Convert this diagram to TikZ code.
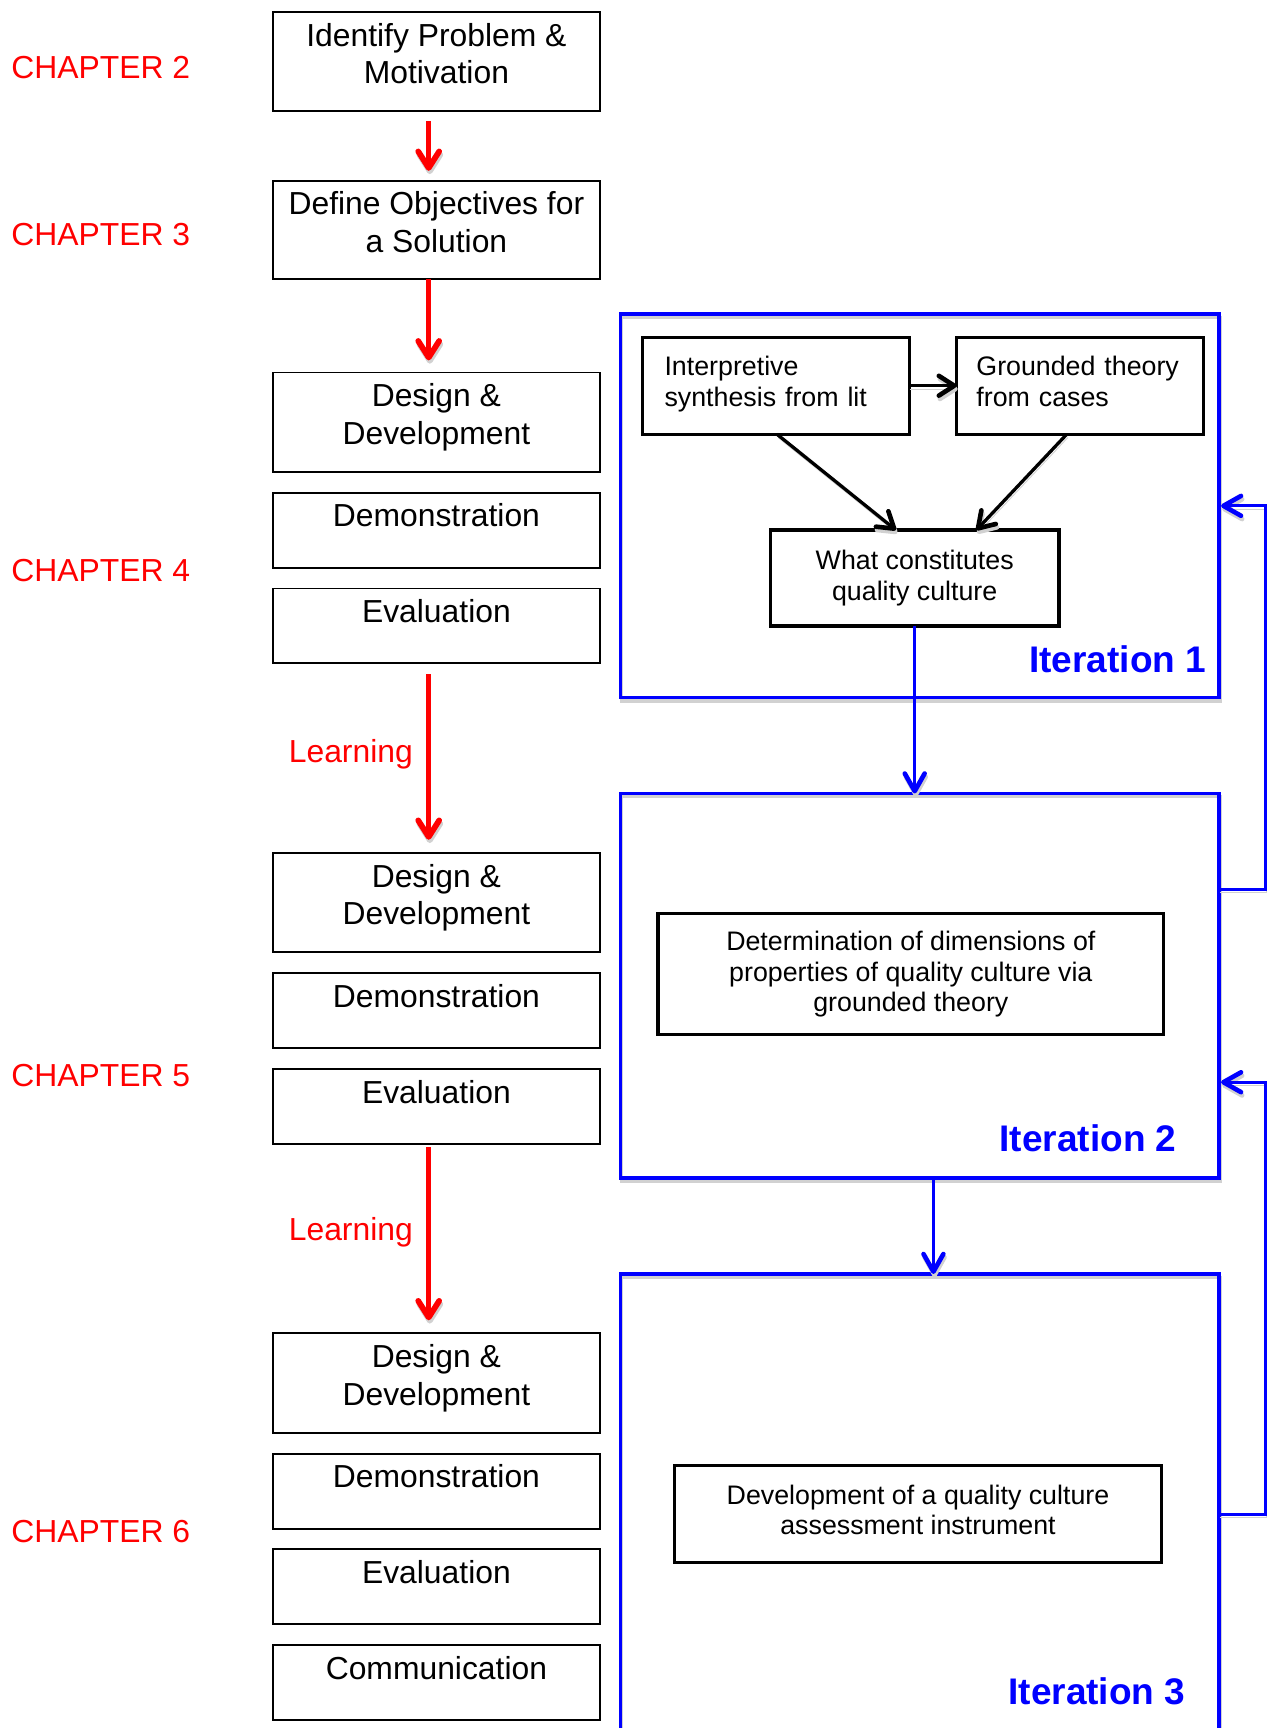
\documentclass[tikz,border=0pt]{standalone}
\usepackage{fontspec}
\setmainfont{Liberation Sans}
\usetikzlibrary{arrows.meta}

\newdimen\pxu \pxu=0.5pt
\definecolor{chred}{RGB}{255,0,0}
\definecolor{itblue}{RGB}{0,0,255}

% process step box: top-aligned, centred text; args: name, top y, height, text
\newcommand\flowbox[4]{%
  \node[fbox] (#1) at (396,{#2+#3/2})
    {\parbox[c][#3\pxu][t]{296\pxu}{\centering\rule{0pt}{15.5pt}#4}};}

\begin{document}
\begin{tikzpicture}[x=0.5pt,y=-0.5pt,
  dropsh/.style={preaction={draw=black!18, transform canvas={shift={(1,3)}}}},
  fbox/.style={draw=black, line width=0.9pt, inner sep=0pt, outer sep=0pt,
    font=\fontsize{14.45pt}{17pt}\selectfont},
  chap/.style={anchor=base west, inner sep=0pt, text=chred,
    font=\fontsize{14.45pt}{17pt}\selectfont},
  learn/.style={anchor=base east, inner sep=0pt, text=chred,
    font=\fontsize{14.45pt}{17pt}\selectfont},
  redarrow/.style={draw=chred, line width=2.2pt,
    -{Straight Barb[length=7.5pt,width=9.5pt,line width=2.6pt,round]}, dropsh},
  frame/.style={draw=itblue, line width=1.55pt, inner sep=0pt, outer sep=0pt, dropsh},
  itlabel/.style={anchor=base east, inner sep=0pt, text=itblue,
    font=\fontsize{16.8pt}{20pt}\selectfont\bfseries},
  inbox/.style={draw=black, line width=1.45pt, inner sep=0pt, outer sep=0pt,
    font=\fontsize{12.15pt}{13.75pt}\selectfont},
  blkarrow/.style={draw=black, line width=1.5pt,
    -{Straight Barb[length=7pt,width=9pt,line width=2.1pt,round]}, dropsh},
  bluearrow/.style={draw=itblue, line width=1.3pt,
    -{Straight Barb[length=8pt,width=9pt,line width=2.1pt,round]}, dropsh},
]
\fill[white] (0,0) rectangle (1149,1568);
\useasboundingbox (0,0) rectangle (1149,1568);

% chapter labels
\node[chap] (ch2) at (10,71) {CHAPTER 2};
\node[chap] (ch3) at (10,223) {CHAPTER 3};
\node[chap] (ch4) at (10,528) {CHAPTER 4};
\node[chap] (ch5) at (10,986) {CHAPTER 5};
\node[chap] (ch6) at (10,1400) {CHAPTER 6};

% process steps
\flowbox{idp}{11}{90}{Identify Problem \&\\Motivation}
\flowbox{obj}{164}{89}{Define Objectives for\\a Solution}
\flowbox{dd1}{338}{90}{Design \&\\Development}
\flowbox{dm1}{447}{68}{Demonstration}
\flowbox{ev1}{534}{68}{Evaluation}
\flowbox{dd2}{774}{90}{Design \&\\Development}
\flowbox{dm2}{883}{68}{Demonstration}
\flowbox{ev2}{970}{68}{Evaluation}
\flowbox{dd3}{1210}{90}{Design \&\\Development}
\flowbox{dm3}{1319}{68}{Demonstration}
\flowbox{ev3}{1406}{68}{Evaluation}
\flowbox{com}{1493}{68}{Communication}

% red flow arrows
\coordinate (ax) at (389,0);
\draw[redarrow, shorten <=4.5pt, shorten >=4.5pt] (idp.south -| ax) -- (obj.north -| ax);
\draw[redarrow, shorten >=5.5pt] (obj.south -| ax) -- (dd1.north -| ax);
\draw[redarrow, shorten <=5pt, shorten >=6pt] (ev1.south -| ax) -- (dd2.north -| ax);
\draw[redarrow, shorten <=1.5pt, shorten >=6pt] (ev2.south -| ax) -- (dd3.north -| ax);
\node[learn] (lr1) at (375,692) {Learning};
\node[learn] (lr2) at (375,1126) {Learning};

% iteration frames
\node[frame, minimum width=271.5pt, minimum height=174pt] (it1) at (834.5,459) {};
\node[frame, minimum width=271.5pt, minimum height=174.5pt] (it2) at (834.5,894.5) {};
\node[frame, minimum width=271.5pt, minimum height=227pt] (it3) at (834.5,1383) {};
\node[itlabel] (il1) at (1095,610) {Iteration 1};
\node[itlabel] (il2) at (1068,1045) {Iteration 2};
\node[itlabel] (il3) at (1076,1547) {Iteration 3};

% iteration 1 contents
\node[inbox, minimum width=121pt, minimum height=44pt, text width=101pt,
  inner xsep=10pt, align=left] (int) at (704,350) {Interpretive\\synthesis from lit\strut};
\node[inbox, minimum width=112pt, minimum height=44pt, text width=94pt,
  inner xsep=9pt, align=left] (gt) at (980,350) {Grounded theory\\from cases\strut};
\node[inbox, minimum width=131pt, minimum height=43.5pt, align=center]
  (wc) at (830,524.5) {What constitutes\\quality culture};
\draw[blkarrow] (int.east) -- (gt.west);
\draw[blkarrow] ([xshift=0.5pt]int.south) -- ([xshift=-8.5pt]wc.north);
\draw[blkarrow] ([xshift=-6pt]gt.south) -- ([xshift=28pt]wc.north);

% iteration 2 and 3 contents
\node[inbox, minimum width=229.5pt, minimum height=55pt, align=center]
  (det) at (826.5,884) {Determination of dimensions of\\properties of quality culture via\\grounded theory};
\node[inbox, minimum width=221pt, minimum height=44pt, align=center]
  (dev) at (833,1374) {Development of a quality culture\\assessment instrument\strut};

% links between iterations
\draw[bluearrow] (wc.south) -- (wc.south |- it2.north);
\coordinate (dx) at (847,0);
\draw[bluearrow] (it2.south -| dx) -- (it3.north -| dx);

% feedback loops on the right
\coordinate (r1) at (1148,459);
\coordinate (r2) at (1148,807);
\coordinate (r3) at (1148,982);
\coordinate (r4) at (1148,1374);
\draw[bluearrow] (it2.east |- r2) -- (r2) -- (r1) -- ([xshift=1pt]it1.east |- r1);
\draw[bluearrow] (it3.east |- r4) -- (r4) -- (r3) -- ([xshift=1pt]it2.east |- r3);
\end{tikzpicture}
\end{document}
